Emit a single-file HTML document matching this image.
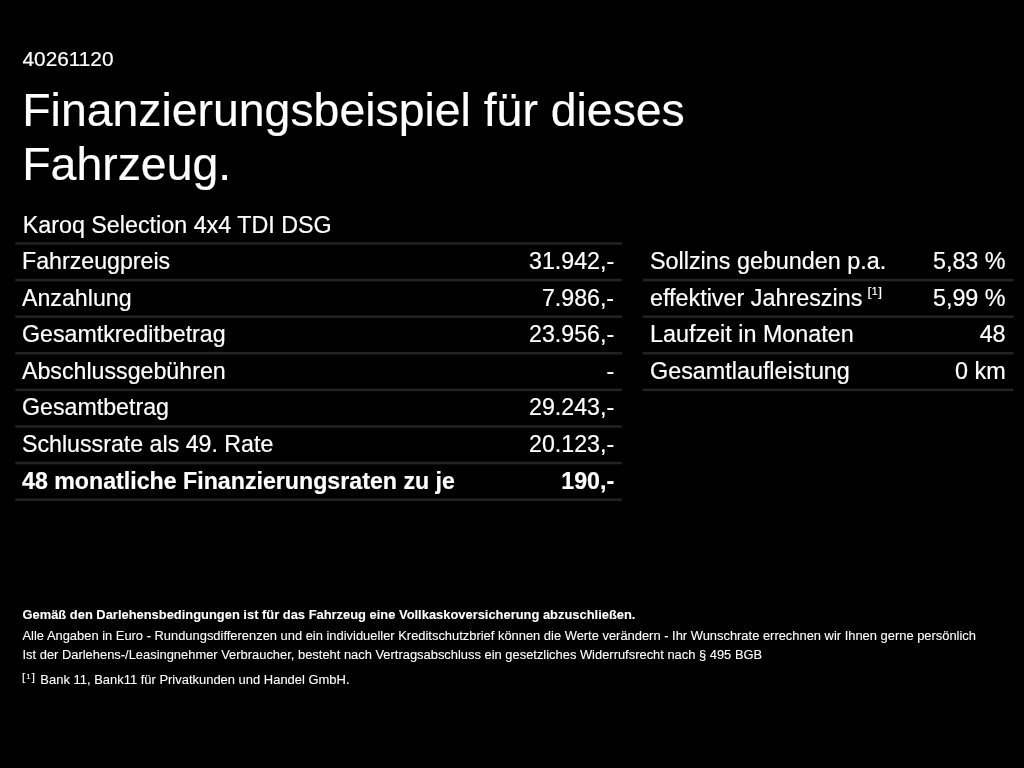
<!DOCTYPE html>
<html lang="de">
<head>
<meta charset="utf-8">
<title>Finanzierungsbeispiel</title>
<style>
html,body{margin:0;padding:0;background:#000;}
body{width:1024px;height:768px;overflow:hidden;position:relative;color:#fff;font-family:"Liberation Sans",Arial,Helvetica,sans-serif;}
.abs{position:absolute;white-space:nowrap;}
body{-webkit-text-stroke:0.2px #fff;}
#id{left:22.5px;top:46.5px;font-size:20.8px;line-height:24px;}
#h1{left:22.3px;top:83.2px;font-size:46.38px;line-height:54px;margin:0;font-weight:normal;}
#model{left:22.7px;top:210.8px;font-size:23.3px;line-height:28px;}
.tbl{position:absolute;border-top:2px solid transparent;}
.row{height:34.6px;border-bottom:2px solid transparent;position:relative;font-size:23.2px;line-height:35px;}
.row .l{position:absolute;left:7px;top:0;white-space:nowrap;}
.row .r{position:absolute;right:7.9px;top:0;white-space:nowrap;}
.row.b{font-weight:bold;}
#t1{left:15px;top:242px;width:607px;}
#t2{left:643px;top:242px;width:370.5px;}
#t2 .row{font-size:23.35px;}
.fm{font-size:13.5px;line-height:0;position:relative;top:-10px;margin-left:-1.3px;font-weight:normal;}
.fm i{font-style:normal;font-size:10.5px;position:relative;top:-0.5px;padding:0 0.5px;}
#f{-webkit-text-stroke:0.1px #fff;left:22.5px;top:0;font-size:12.92px;line-height:16px;}
#f div{position:absolute;left:0;white-space:nowrap;}
#f1{top:606.5px;}#f2{top:628px;}#f3{top:647px;}#f4{top:671.5px;font-size:12.96px;}
#f4 .fm{font-size:11.5px;top:-2.5px;margin:0 5.5px 0 -0.5px;}#f4 .fm i{font-size:8px;top:-2.5px;padding:0 1px;}

</style>
</head>
<body>
<div class="abs" id="id">40261120</div>
<h1 class="abs" id="h1">Finanzierungsbeispiel für dieses<br>Fahrzeug.</h1>
<div class="abs" id="model">Karoq Selection 4x4 TDI DSG</div>

<svg id="lines" width="1024" height="768" viewBox="0 0 1024 768" style="position:absolute;left:0;top:0;pointer-events:none" fill="#232323">
<rect x="15.3" y="242.15" width="606.6" height="2.6"/>
<rect x="15.3" y="278.75" width="606.6" height="2.6"/>
<rect x="15.3" y="315.35" width="606.6" height="2.6"/>
<rect x="15.3" y="351.95" width="606.6" height="2.6"/>
<rect x="15.3" y="388.55" width="606.6" height="2.6"/>
<rect x="15.3" y="425.15" width="606.6" height="2.6"/>
<rect x="15.3" y="461.75" width="606.6" height="2.6"/>
<rect x="15.3" y="498.35" width="606.6" height="2.6"/>
<rect x="642.7" y="278.75" width="370.8" height="2.6"/>
<rect x="642.7" y="315.35" width="370.8" height="2.6"/>
<rect x="642.7" y="351.95" width="370.8" height="2.6"/>
<rect x="642.7" y="388.55" width="370.8" height="2.6"/>
</svg>
<div class="tbl" id="t1">
<div class="row"><span class="l">Fahrzeugpreis</span><span class="r">31.942,-</span></div>
<div class="row"><span class="l">Anzahlung</span><span class="r">7.986,-</span></div>
<div class="row"><span class="l">Gesamtkreditbetrag</span><span class="r">23.956,-</span></div>
<div class="row"><span class="l">Abschlussgebühren</span><span class="r">-</span></div>
<div class="row"><span class="l">Gesamtbetrag</span><span class="r">29.243,-</span></div>
<div class="row"><span class="l">Schlussrate als 49. Rate</span><span class="r">20.123,-</span></div>
<div class="row b"><span class="l">48 monatliche Finanzierungsraten zu je</span><span class="r">190,-</span></div>
</div>

<div class="tbl" id="t2">
<div class="row"><span class="l">Sollzins gebunden p.a.</span><span class="r">5,83 %</span></div>
<div class="row"><span class="l">effektiver Jahreszins <span class="fm">[<i>1</i>]</span></span><span class="r">5,99 %</span></div>
<div class="row"><span class="l">Laufzeit in Monaten</span><span class="r">48</span></div>
<div class="row"><span class="l">Gesamtlaufleistung</span><span class="r">0 km</span></div>
</div>

<div class="abs" id="f">
<div id="f1"><b>Gemäß den Darlehensbedingungen ist für das Fahrzeug eine Vollkaskoversicherung abzuschließen.</b></div>
<div id="f2">Alle Angaben in Euro - Rundungsdifferenzen und ein individueller Kreditschutzbrief können die Werte verändern - Ihr Wunschrate errechnen wir Ihnen gerne persönlich</div>
<div id="f3">Ist der Darlehens-/Leasingnehmer Verbraucher, besteht nach Vertragsabschluss ein gesetzliches Widerrufsrecht nach § 495 BGB</div>
<div id="f4"><span class="fm">[<i>1</i>]</span>Bank 11, Bank11 für Privatkunden und Handel GmbH.</div>
</div>
</body>
</html>
